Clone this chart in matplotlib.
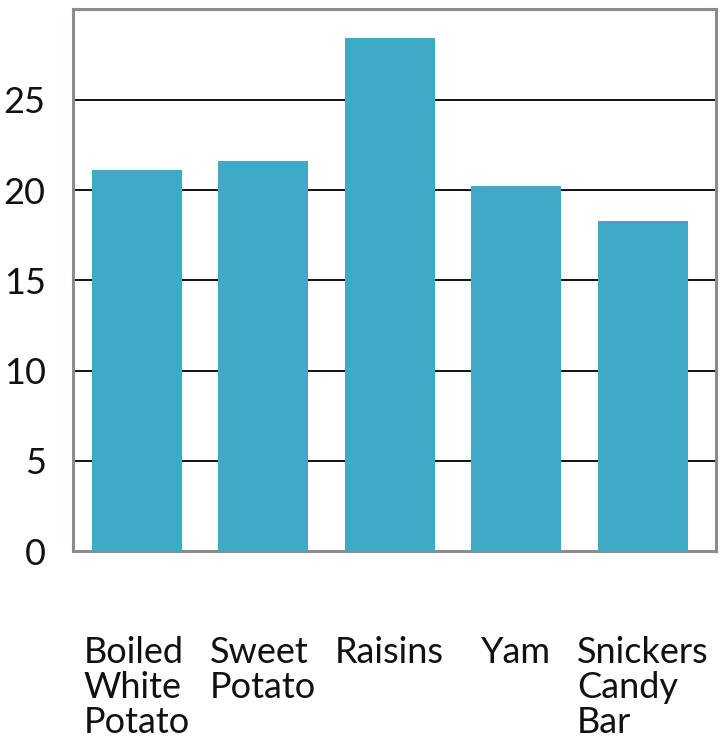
import matplotlib
matplotlib.use("Agg")
import matplotlib.pyplot as plt
import numpy as np

categories = ["Boiled\nWhite\nPotato", "Sweet\nPotato", "Raisins", "Yam", "Snickers\nCandy\nBar"]
values = [21.1, 21.6, 28.4, 20.2, 18.3]
yticks = [0, 5, 10, 15, 20, 25]

plt.rcParams['font.family'] = ['Lato', 'DejaVu Sans']

fig = plt.figure(figsize=(7.22, 7.42), dpi=100)
ax = fig.add_axes([0.1018, 0.2574, 0.9917 - 0.1018, 0.9872 - 0.2574])

x = np.arange(len(categories))
ax.bar(x, values, width=0.71, color='#3FAAC6', zorder=3)

ax.set_xlim(-0.50, 4.58)
ax.set_ylim(0, 30)
ax.set_yticks(yticks)
ax.set_yticklabels([str(t) for t in yticks], fontsize=26, color='#111111')
ax.yaxis.grid(True, color='#111111', linewidth=1.4, zorder=1)
ax.set_axisbelow(True)

ax.set_xticks(x)
ax.set_xticklabels(categories, fontsize=26, color='#111111', multialignment='left',
                   linespacing=1.08)
ax.tick_params(axis='x', length=0, pad=61)
ax.tick_params(axis='y', length=0, pad=20)

for s in ax.spines.values():
    s.set_color('#8a8d90')
    s.set_linewidth(2.2)

fig.savefig('out.png', dpi=100)
